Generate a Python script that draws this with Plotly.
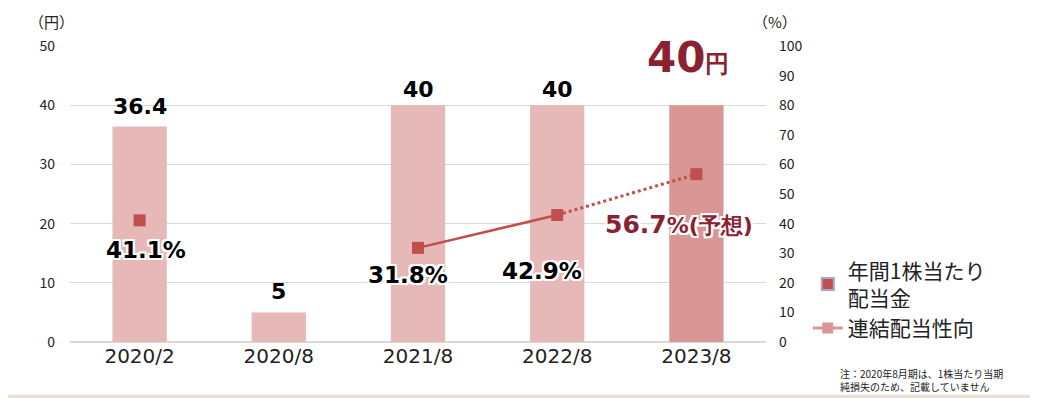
import plotly.graph_objects as go

categories = ["2020/2", "2020/8", "2021/8", "2022/8", "2023/8"]
dividends = [36.4, 5, 40, 40, 40]
dividend_labels = ["36.4", "5", "40", "40", None]
payout_ratio = [41.1, None, 31.8, 42.9, 56.7]
payout_labels = ["41.1%", None, "31.8%", "42.9%", "56.7"]
bar_colors = ["#E6B8B7", "#E6B8B7", "#E6B8B7", "#E6B8B7", "#DA9694"]

JP = "Noto Sans CJK JP"
NUM = "DejaVu Sans"
DARK_RED = "#8B2232"
LINE_RED = "#C0504D"
WHITE_OUTLINE = ("2px 2px 0 #fff, -2px -2px 0 #fff, 2px -2px 0 #fff, -2px 2px 0 #fff, "
                 "0 2px 0 #fff, 0 -2px 0 #fff, 2px 0 0 #fff, -2px 0 0 #fff")

fig = go.Figure()

fig.add_trace(go.Bar(x=categories, y=dividends, marker=dict(color=bar_colors, line=dict(width=0)),
                     width=0.39, showlegend=False, hoverinfo="x+y"))

# solid segment (actual) and dotted segment (forecast)
fig.add_trace(go.Scatter(x=categories[2:4], y=payout_ratio[2:4], yaxis="y2", mode="lines",
                         line=dict(color=LINE_RED, width=2.5), showlegend=False))
fig.add_trace(go.Scatter(x=categories[3:5], y=payout_ratio[3:5], yaxis="y2", mode="lines",
                         line=dict(color=LINE_RED, width=3, dash="dot"), showlegend=False))
fig.add_trace(go.Scatter(x=categories, y=payout_ratio, yaxis="y2", mode="markers",
                         marker=dict(symbol="square", size=12, color=LINE_RED), showlegend=False))

# legend-only entries
fig.add_trace(go.Bar(x=[categories[0]], y=[None], name="年間1株当たり<br>配当金",
                     marker=dict(color=LINE_RED, line=dict(color="#B3A2C7", width=2))))
fig.add_trace(go.Scatter(x=[categories[0]], y=[None], yaxis="y2", name="連結配当性向",
                         mode="lines+markers", line=dict(color="#DA9694", width=3),
                         marker=dict(symbol="square", size=11, color="#DA9694")))

annotations = []
div_yshift = {"2020/2": 6, "2020/8": 6, "2021/8": 1, "2022/8": 1}
for c, v, lab in zip(categories, dividends, dividend_labels):
    if lab is None:
        continue
    annotations.append(dict(x=c, y=v, xref="x", yref="y", text=f"<b>{lab}</b>", showarrow=False,
                            yanchor="bottom", yshift=div_yshift[c],
                            font=dict(family=NUM, size=22, color="#000")))
# forecast dividend label
annotations.append(dict(x=categories[4], y=dividends[4], xref="x", yref="y",
                        text=f"<b>{dividends[4]:.0f}<span style='font-size:24px'>円</span></b>",
                        showarrow=False, yanchor="bottom", yshift=21, xshift=-8,
                        font=dict(family=NUM, size=42, color=DARK_RED)))

pct_offsets = {"2020/2": (6, -30), "2021/8": (-10, -27), "2022/8": (-15, -56), "2023/8": (-17, -50)}
for c, v, lab in zip(categories, payout_ratio, payout_labels):
    if lab is None:
        continue
    dx, dy = pct_offsets[c]
    if c == "2023/8":
        text = f"<b>{lab}<span style='font-size:22px'>%(予想)</span></b>"
        col = DARK_RED
        size = 25
    else:
        text = f"<b>{lab}</b>"
        col = "#000"
        size = 23
    annotations.append(dict(x=c, y=v, xref="x", yref="y2", text=text, showarrow=False,
                            xshift=dx, yshift=dy,
                            font=dict(family=NUM, size=size, color=col, shadow=WHITE_OUTLINE)))

annotations += [
    dict(x=-0.026, y=1.082, xref="paper", yref="paper", text="（円）", showarrow=False,
         xanchor="center", yanchor="middle", font=dict(family=JP, size=15, color="#222")),
    dict(x=1.013, y=1.082, xref="paper", yref="paper", text="（%）", showarrow=False,
         xanchor="center", yanchor="middle", font=dict(family=JP, size=15, color="#222")),
    dict(x=1.103, y=-0.075, xref="paper", yref="paper",
         text="注：2020年8月期は、1株当たり当期<br>純損失のため、記載していません",
         showarrow=False, xanchor="left", yanchor="top", align="left",
         font=dict(family=JP, size=10, color="#222")),
]

fig.update_layout(
    width=1030, height=390,
    margin=dict(l=62, r=272, t=38, b=56, autoexpand=False),
    paper_bgcolor="white", plot_bgcolor="white",
    barmode="overlay",
    xaxis=dict(type="category", showline=False, ticks="", showgrid=False,
               tickfont=dict(family=NUM, size=20, color="#222")),
    yaxis=dict(range=[0, 50], dtick=10, showgrid=True, gridcolor="#D9D9D9", gridwidth=1,
               zeroline=True, zerolinecolor="#D9D9D9", showline=False, ticks="",
               tickfont=dict(family=JP, size=14, color="#222"), ticklabelstandoff=14),
    yaxis2=dict(range=[0, 100], dtick=10, overlaying="y", side="right", showgrid=False,
                zeroline=False, showline=False, ticks="",
                tickfont=dict(family=JP, size=14, color="#222"), ticklabelstandoff=12),
    legend=dict(x=1.06, y=0.31, xanchor="left", yanchor="top", bgcolor="rgba(0,0,0,0)",
                font=dict(family=JP, size=21, color="#222"), tracegroupgap=6,
                itemwidth=30),
    annotations=annotations,
    shapes=[dict(type="rect", xref="paper", yref="paper", x0=-0.1, x1=1.4, y0=-0.19, y1=-0.178,
                 fillcolor="#E8E1D6", line=dict(width=0), layer="below")],
)

fig.write_html("out.html")
